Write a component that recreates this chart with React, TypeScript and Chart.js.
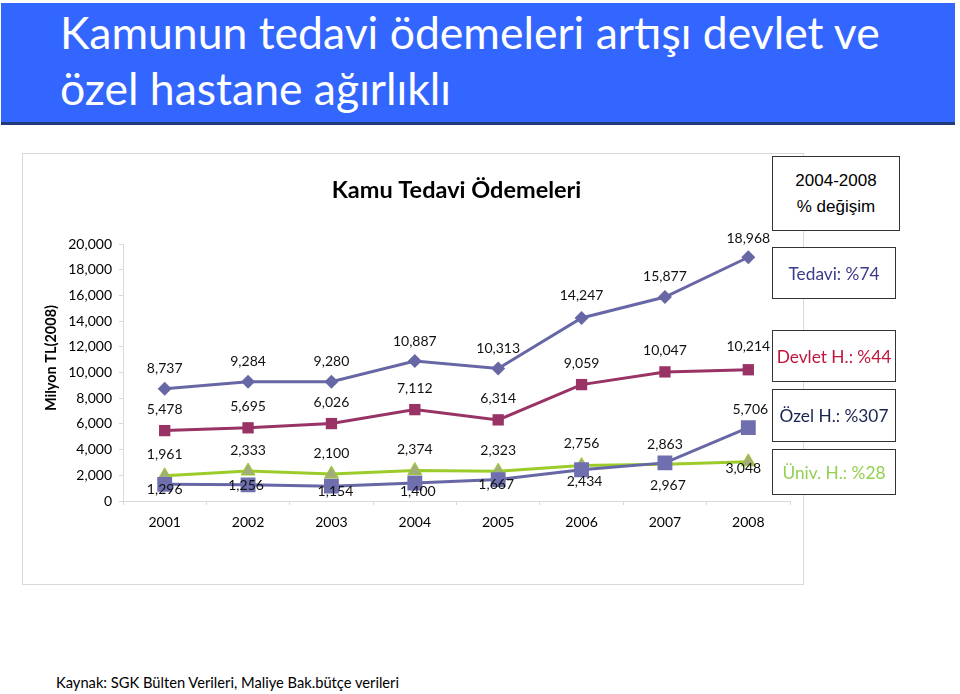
import React, { useEffect, useRef } from "react";
import { Chart, registerables } from "chart.js";

Chart.register(...registerables);

const years = ["2001", "2002", "2003", "2004", "2005", "2006", "2007", "2008"];
const tedavi = [8737, 9284, 9280, 10887, 10313, 14247, 15877, 18968];
const devlet = [5478, 5695, 6026, 7112, 6314, 9059, 10047, 10214];
const univ = [1961, 2333, 2100, 2374, 2323, 2756, 2863, 3048];
const ozel = [1296, 1256, 1154, 1400, 1667, 2434, 2967, 5706];
const yMin = 0;
const yMax = 20000;
const yStep = 2000;

const chartTitle = "Kamu Tedavi Ödemeleri";
const yTitle = "Milyon TL(2008)";
const slideTitle = ["Kamunun tedavi ödemeleri artışı devlet ve", "özel hastane ağırlıklı"];
const source = "Kaynak: SGK Bülten Verileri, Maliye Bak.bütçe verileri";
const boxHeader = ["2004-2008", "% değişim"];
const boxTexts = ["Tedavi: %74", "Devlet H.: %44", "Özel H.: %307", "Üniv. H.: %28"];

// label offsets (style only), per dataset
const labelOffsets: Record<string, [number, number][]> = {
  ozel: [[0, 5], [-2, 1], [4, 5], [3, 8], [-2, 5], [3, 12], [3, 23], [2, -18]],
  univ: [[0, -21], [0, -21], [0, -21], [0, -21], [0, -21], [0, -22], [0, -20], [-5, 7]],
  devlet: [[0, -21], [0, -21], [0, -21], [0, -21], [0, -21], [0, -21], [0, -21], [0, -23]],
  tedavi: [[0, -20], [0, -20], [0, -20], [0, -20], [0, -20], [0, -22], [0, -20], [0, -19]],
};

const FONT = "Lato, 'Open Sans', sans-serif";

const labelPlugin = {
  id: "customLabels",
  afterDatasetsDraw(chart: any) {
    const ctx = chart.ctx;
    ctx.save();
    ctx.fillStyle = "#111";
    ctx.font = `14px ${FONT}`;
    ctx.textAlign = "center";
    ctx.textBaseline = "middle";
    chart.data.datasets.forEach((ds: any, i: number) => {
      const meta = chart.getDatasetMeta(i);
      const offs = labelOffsets[ds.key];
      meta.data.forEach((el: any, j: number) => {
        const v = ds.data[j];
        const [dx, dy] = offs[j];
        ctx.fillText(Number(v).toLocaleString("en-US"), el.x + dx, el.y + dy);
      });
    });
    // chart title
    const ca = chart.chartArea;
    ctx.fillStyle = "#000";
    ctx.font = `bold 23.5px ${FONT}`;
    ctx.fillText(chartTitle, (ca.left + ca.right) / 2, 36);
    // y axis title
    ctx.translate(28, 204);
    ctx.rotate(-Math.PI / 2);
    ctx.font = `bold 14.5px ${FONT}`;
    ctx.fillText(yTitle, 0, 0);
    ctx.restore();
  },
};

function ChartCanvas() {
  const ref = useRef<HTMLCanvasElement>(null);
  useEffect(() => {
    if (!ref.current) return;
    const slate = "#6767a6";
    const chart = new Chart(ref.current, {
      type: "line",
      data: {
        labels: years,
        datasets: [
          {
            key: "ozel",
            data: ozel,
            borderColor: slate,
            backgroundColor: "#6f6fb0",
            borderWidth: 3,
            pointStyle: "rect",
            pointRadius: 10.5,
            pointBorderWidth: 0,
            pointBackgroundColor: "#6f6fb0",
          },
          {
            key: "univ",
            data: univ,
            borderColor: "#9ccc2a",
            backgroundColor: "#a2ad78",
            borderWidth: 3,
            pointStyle: "triangle",
            pointRadius: 8,
            pointBorderWidth: 1,
            pointBorderColor: "#9ccc2a",
            pointBackgroundColor: "#a2ad78",
          },
          {
            key: "devlet",
            data: devlet,
            borderColor: "#993366",
            backgroundColor: "#993366",
            borderWidth: 3,
            pointStyle: "rect",
            pointRadius: 8,
            pointBorderWidth: 0,
            pointBackgroundColor: "#993366",
          },
          {
            key: "tedavi",
            data: tedavi,
            borderColor: slate,
            backgroundColor: slate,
            borderWidth: 3,
            pointStyle: "rectRot",
            pointRadius: 7,
            pointBorderWidth: 0,
            pointBackgroundColor: slate,
          },
        ] as any,
      },
      options: {
        animation: false,
        responsive: false,
        maintainAspectRatio: false,
        layout: { padding: { top: 90, right: 13, left: 0, bottom: 0 } },
        plugins: {
          legend: { display: false },
          tooltip: { enabled: false },
          title: { display: false },
        },
        scales: {
          x: {
            type: "category",
            offset: true,
            grid: {
              display: true,
              drawOnChartArea: false,
              drawTicks: true,
              tickLength: 4,
              color: "#d9d9d9",
              offset: true,
            },
            border: { color: "#d9d9d9" },
            ticks: { color: "#000", font: { family: FONT, size: 14 }, padding: 9 },
            afterFit: (s: any) => {
              s.height = 83;
            },
          },
          y: {
            min: yMin,
            max: yMax,
            grid: {
              display: true,
              drawOnChartArea: false,
              drawTicks: true,
              tickLength: 4,
              color: "#d9d9d9",
            },
            border: { color: "#d9d9d9" },
            ticks: {
              stepSize: yStep,
              color: "#000",
              font: { family: FONT, size: 14 },
              padding: 7,
              callback: (v: any) => Number(v).toLocaleString("en-US"),
            },
            afterFit: (s: any) => {
              s.width = 100;
            },
          },
        },
      },
      plugins: [labelPlugin],
    } as any);
    return () => chart.destroy();
  }, []);
  return <canvas ref={ref} width={780} height={430} style={{ display: "block", width: 780, height: 430 }} />;
}

const boxStyle: React.CSSProperties = {
  position: "absolute",
  left: 772,
  width: 124,
  border: "1.5px solid #333",
  background: "#fff",
  boxSizing: "border-box",
  display: "flex",
  alignItems: "center",
  justifyContent: "center",
  fontFamily: FONT,
  fontSize: 17.3,
  whiteSpace: "nowrap",
};

export default function App() {
  const boxes = [
    { top: 247, h: 52, color: "#3b3b8c" },
    { top: 330, h: 52, color: "#c0143c" },
    { top: 389, h: 53, color: "#1a2350" },
    { top: 449, h: 46, color: "#92d050" },
  ];
  return (
    <div style={{ position: "absolute", left: 0, top: 0, width: 960, height: 694, background: "#fff", overflow: "hidden" }}>
      <div
        style={{
          position: "absolute",
          left: 1,
          top: 3,
          width: 954,
          height: 122,
          background: "#3366ff",
          borderBottom: "3px solid #233a7a",
          boxSizing: "border-box",
        }}
      />
      {slideTitle.map((t, i) => (
        <div
          key={i}
          style={{
            position: "absolute",
            left: 60,
            top: 6 + i * 56,
            fontFamily: FONT,
            fontSize: 44.5,
            lineHeight: "52px",
            color: "#fff",
            whiteSpace: "nowrap",
          }}
        >
          {t}
        </div>
      ))}
      <div
        style={{
          position: "absolute",
          left: 23,
          top: 154,
          width: 780,
          height: 430,
          border: "1px solid #d9d9d9",
          boxSizing: "content-box",
          marginLeft: -1,
          marginTop: -1,
        }}
      >
        <ChartCanvas />
      </div>
      <div
        style={{
          ...boxStyle,
          top: 156,
          width: 128,
          height: 75,
          flexDirection: "column",
          fontFamily: "'Liberation Sans', Arial, sans-serif",
          fontSize: 17,
          lineHeight: "26px",
          color: "#000",
        }}
      >
        {boxHeader.map((t, i) => (
          <div key={i}>{t}</div>
        ))}
      </div>
      {boxes.map((b, i) => (
        <div key={i} style={{ ...boxStyle, top: b.top, height: b.h, color: b.color }}>
          {boxTexts[i]}
        </div>
      ))}
      <div
        style={{
          position: "absolute",
          left: 56,
          top: 673,
          fontFamily: FONT,
          fontSize: 14.7,
          color: "#000",
          whiteSpace: "nowrap",
        }}
      >
        {source}
      </div>
    </div>
  );
}
